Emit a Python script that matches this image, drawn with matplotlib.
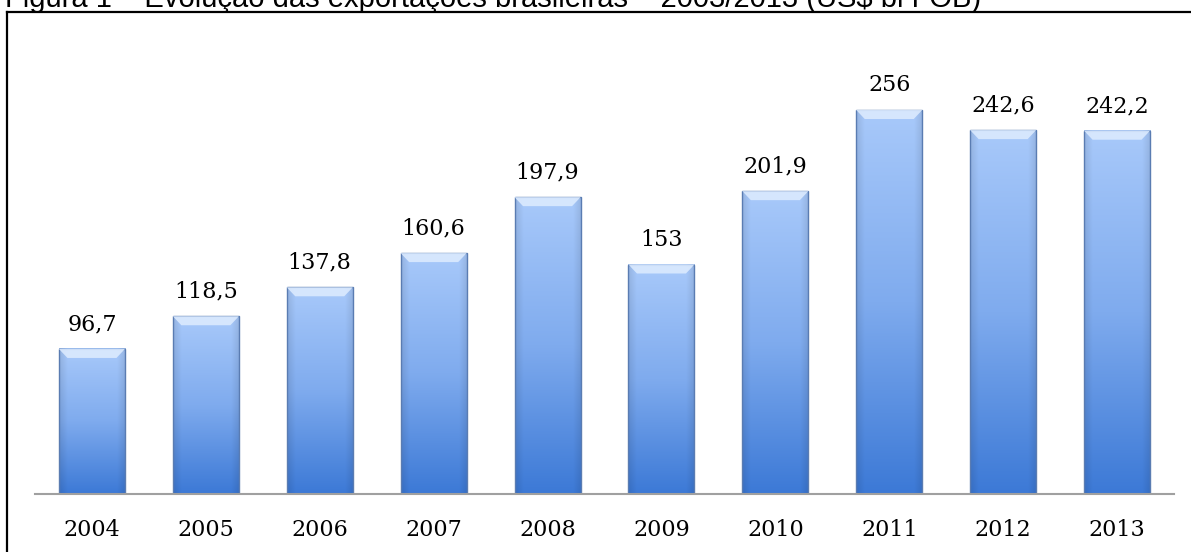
import numpy as np
import matplotlib
matplotlib.use("Agg")
import matplotlib.pyplot as plt
from matplotlib.patches import Rectangle, Polygon
from matplotlib.lines import Line2D

# ---- data ----
years = ["2004", "2005", "2006", "2007", "2008", "2009", "2010", "2011", "2012", "2013"]
values = [96.7, 118.5, 137.8, 160.6, 197.9, 153.0, 201.9, 256.0, 242.6, 242.2]
title = "Figura 1 – Evolução das exportações brasileiras – 2003/2013 (US$ bi FOB)"

W, H = 1191, 552
fig = plt.figure(figsize=(W / 100, H / 100), dpi=100)
fig.patch.set_facecolor("white")

# frame (left and top lines)
fig.add_artist(Line2D([7 / W, 7 / W], [0, 1 - 12 / H], transform=fig.transFigure,
                      color="black", lw=1.6))
fig.add_artist(Line2D([7 / W, 1], [1 - 12 / H, 1 - 12 / H], transform=fig.transFigure,
                      color="black", lw=1.6))

# title (top cut off as in reference)
fig.text(5 / W, 1 - 7 / H, title, fontsize=21, family="Liberation Sans",
         va="baseline", ha="left", color="black")

ax = fig.add_axes([35 / W, (H - 494) / H, 1139 / W, 450 / H])
ax.set_facecolor("none")

x = np.arange(len(years))
bw = 0.58
ymax = 300

top_c = np.array([0xa8, 0xc9, 0xfa]) / 255
mid_c = np.array([0x7f, 0xab, 0xee]) / 255
bot_c = np.array([0x3c, 0x79, 0xd6]) / 255
ny, nx = 200, 60
tv = np.linspace(0, 1, ny)[:, None]
hx = np.linspace(-1, 1, nx)[None, :]
edge = 1 - 0.10 * np.clip((np.abs(hx) - 0.75) / 0.25, 0, 1)

for xi, v in zip(x, values):
    t = tv[..., None]
    lower = bot_c * (1 - 2 * t) + mid_c * (2 * t)
    upper = mid_c * (2 - 2 * t) + top_c * (2 * t - 1)
    grad = np.where(t < 0.5, lower, upper) * np.ones((1, nx, 1))
    grad = grad[::-1] * edge[..., None]
    grad = np.clip(grad, 0, 1)
    ax.imshow(grad, extent=[xi - bw / 2, xi + bw / 2, 0, v], aspect="auto",
              zorder=2, interpolation="bilinear")
    ax.add_patch(Rectangle((xi - bw / 2, 0), bw, v, fill=False,
                           edgecolor="#5a7cb2", lw=1.0, zorder=3))
    dy = 6.0
    dx = 0.075
    ax.add_patch(Polygon([[xi - bw / 2, v], [xi + bw / 2, v],
                          [xi + bw / 2 - dx, v - dy], [xi - bw / 2 + dx, v - dy]],
                         closed=True, facecolor="#dbeafe", edgecolor="none",
                         alpha=0.9, zorder=4))
    lab = f"{v:g}".replace(".", ",")
    ax.annotate(lab, (xi, v), xytext=(0, 13.5), textcoords="offset points",
                ha="center", va="baseline", fontsize=16,
                family="DejaVu Serif", color="black")

ax.set_xlim(-0.5, len(years) - 0.5)
ax.set_ylim(0, ymax)
ax.set_xticks(x)
ax.set_xticklabels(years, family="DejaVu Serif", fontsize=16, color="black")
ax.tick_params(axis="x", length=0, pad=18)
ax.set_yticks([])
for s in ["left", "right", "top"]:
    ax.spines[s].set_visible(False)
ax.spines["bottom"].set_color("#a0a0a0")
ax.spines["bottom"].set_linewidth(1.5)
ax.spines["bottom"].set_zorder(5)

fig.savefig("out.png", dpi=100, facecolor="white")
